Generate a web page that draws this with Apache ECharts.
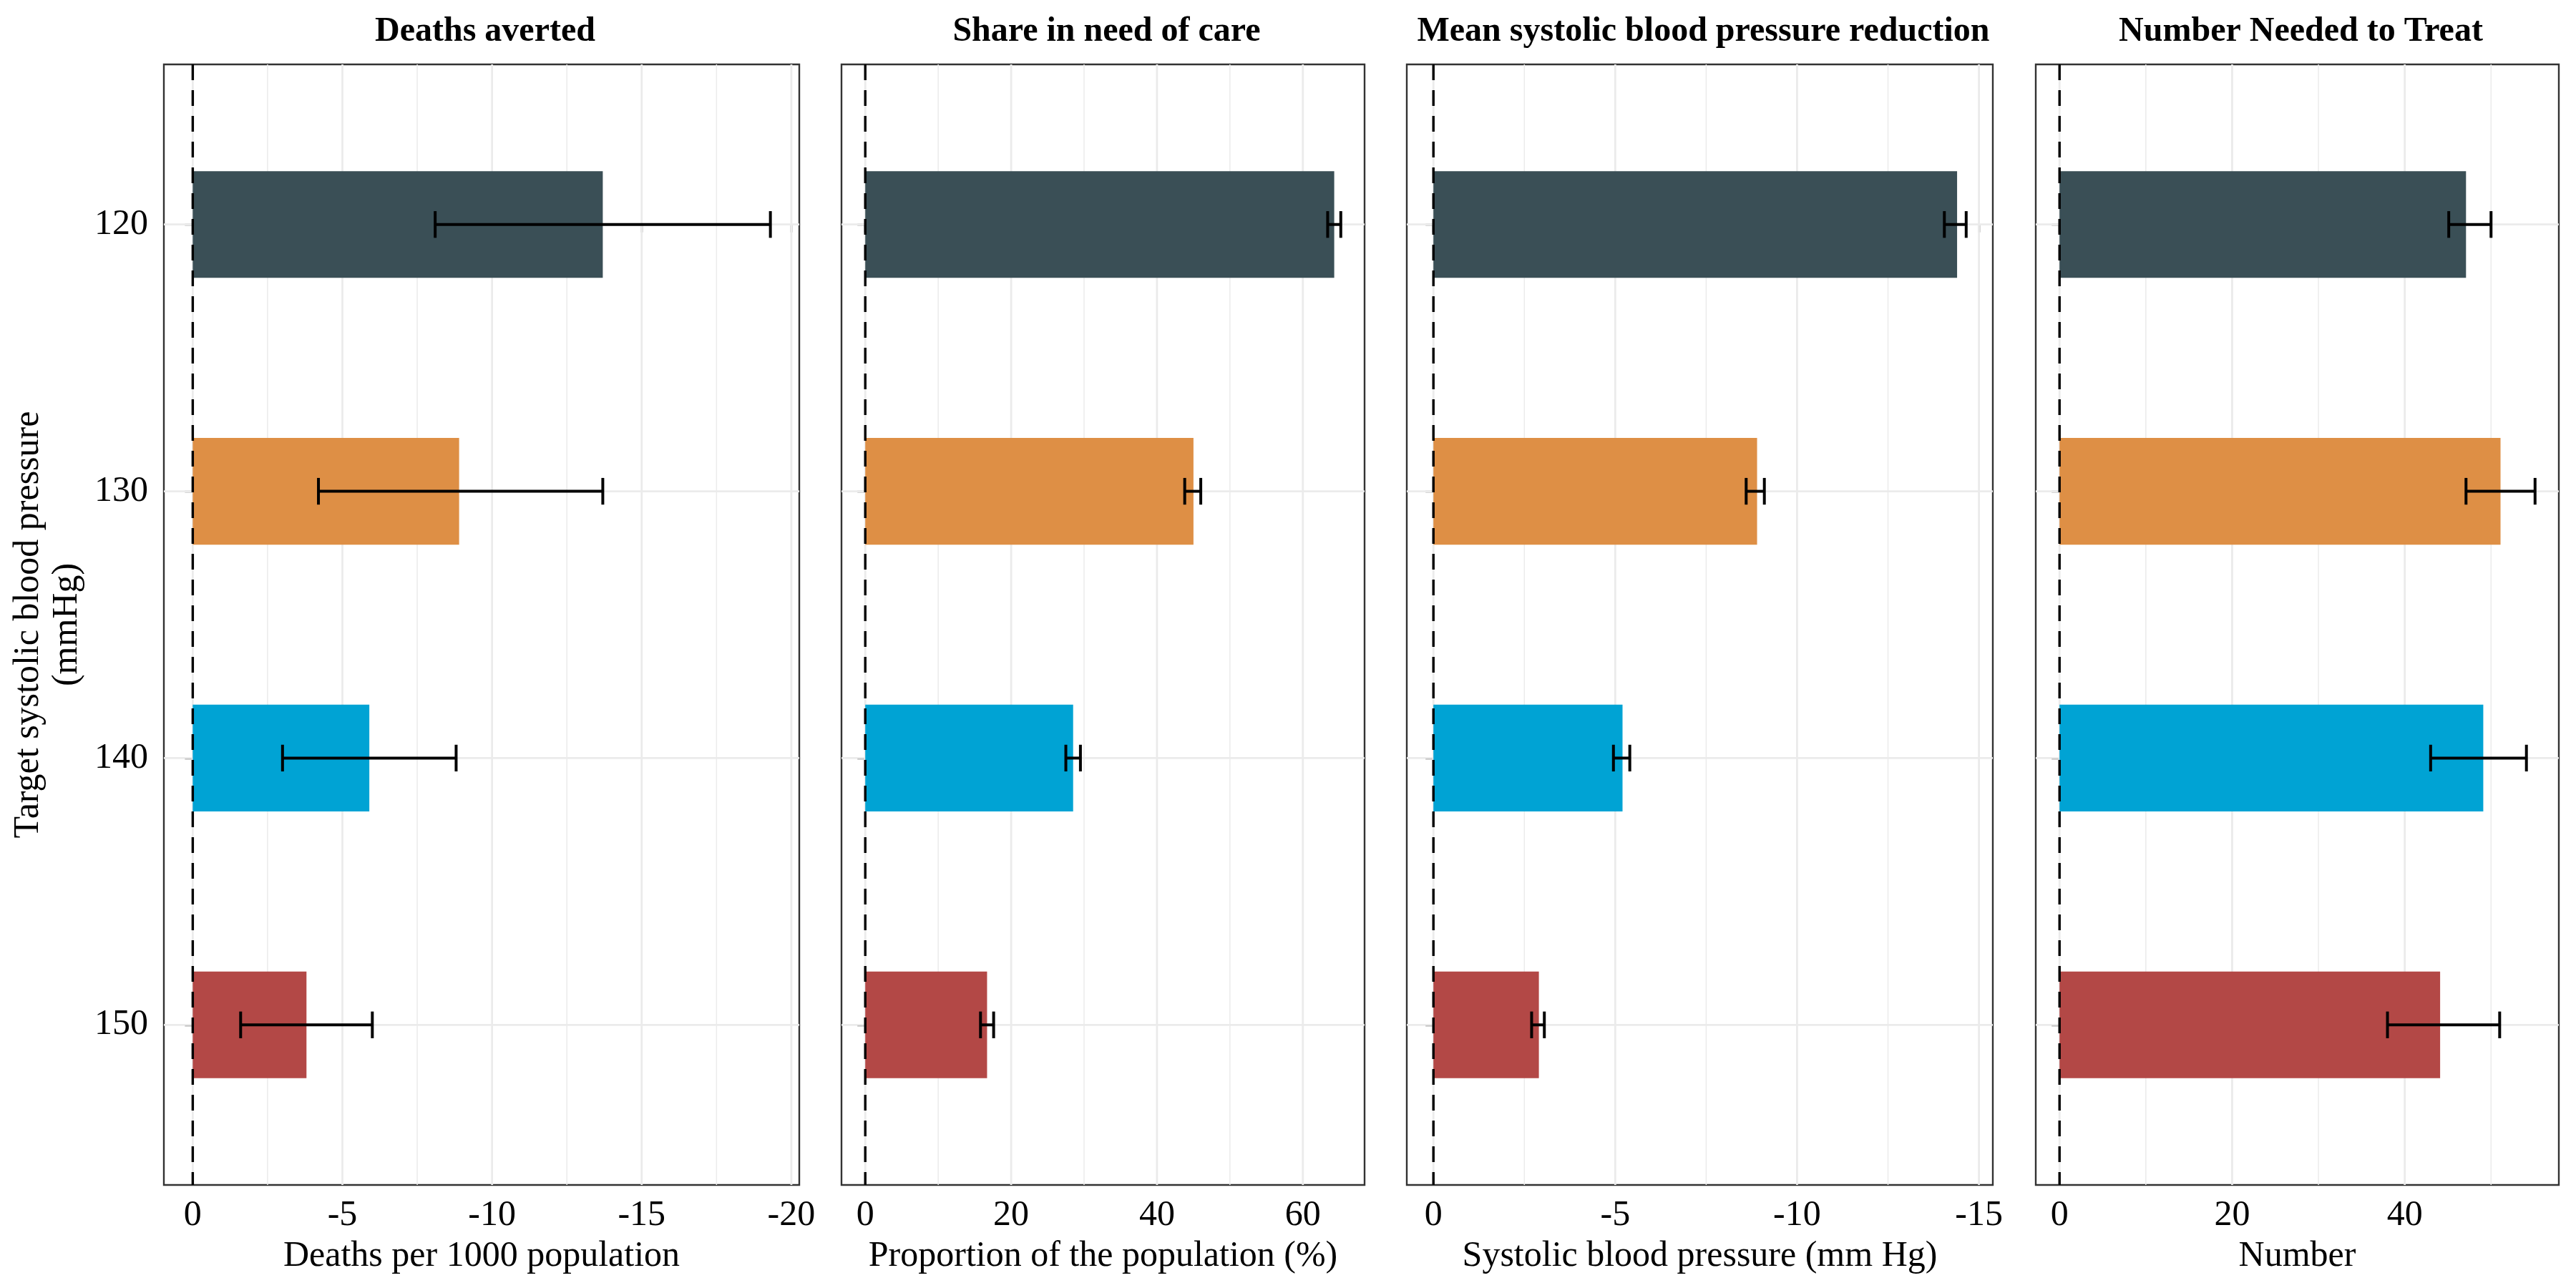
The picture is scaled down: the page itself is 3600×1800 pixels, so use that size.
<!DOCTYPE html>
<html>
<head>
<meta charset="utf-8">
<script src="https://cdn.jsdelivr.net/npm/echarts@6/dist/echarts.min.js"></script>
<style>html,body{margin:0;padding:0;background:#fff;}#chart{width:3600px;height:1800px;}</style>
</head>
<body>
<div id="chart"></div>
<script>
// ---------------- DATA ----------------
const categories = ['120', '130', '140', '150'];
const barColors = ['#3A4F56', '#DE8F45', '#00A3D4', '#B34846'];

const panelTitles = ['Deaths averted', 'Share in need of care', 'Mean systolic blood pressure reduction', 'Number Needed to Treat'];
const axisTitles = ['Deaths per 1000 population', 'Proportion of the population (%)', 'Systolic blood pressure (mm Hg)', 'Number'];

const deathsAverted = [-13.7, -8.9, -5.9, -3.8];
const deathsLower   = [-8.1, -4.2, -3.0, -1.6];
const deathsUpper   = [-19.3, -13.7, -8.8, -6.0];

const shareCare      = [64.3, 45.0, 28.5, 16.7];
const shareCareLower = [63.4, 43.8, 27.5, 15.8];
const shareCareUpper = [65.2, 46.0, 29.5, 17.6];

const sbpReduction = [-14.4, -8.9, -5.2, -2.9];
const sbpLower     = [-14.05, -8.6, -4.95, -2.7];
const sbpUpper     = [-14.65, -9.1, -5.4, -3.05];

const nnt      = [47.1, 51.1, 49.1, 44.1];
const nntLower = [45.1, 47.1, 43.0, 38.0];
const nntUpper = [50.0, 55.1, 54.1, 51.0];

const deathsTicks = [0, -5, -10, -15, -20];
const deathsMinor = [-2.5, -7.5, -12.5, -17.5];
const shareTicks  = [0, 20, 40, 60];
const shareMinor  = [10, 30, 50];
const sbpTicks    = [0, -5, -10, -15];
const sbpMinor    = [-2.5, -7.5, -12.5];
const nntTicks    = [0, 20, 40];
const nntMinor    = [10, 30, 50];

// ---------------- LAYOUT ----------------
const FONT = 'Liberation Serif';
const FS = 50;
const FS_TITLE = 48;
const panelsLayout = [
  {left: 229, width: 888},
  {left: 1176, width: 731},
  {left: 1966, width: 819},
  {left: 2845, width: 731}
];
const TOP = 90, BOTTOM = 144;
const Y_MIN = -0.6, Y_MAX = 3.6;
const BAR_HALF = 0.2, CAP_HALF = 0.05;

const panels = [
  {vals: deathsAverted, lo: deathsLower, hi: deathsUpper, ticks: deathsTicks, minor: deathsMinor, inverse: true},
  {vals: shareCare, lo: shareCareLower, hi: shareCareUpper, ticks: shareTicks, minor: shareMinor, inverse: false},
  {vals: sbpReduction, lo: sbpLower, hi: sbpUpper, ticks: sbpTicks, minor: sbpMinor, inverse: true},
  {vals: nnt, lo: nntLower, hi: nntUpper, ticks: nntTicks, minor: nntMinor, inverse: false}
];

function extent(p) {
  const all = [0].concat(p.vals, p.lo, p.hi);
  const a = Math.min.apply(null, all), b = Math.max.apply(null, all);
  const pad = (b - a) * 0.05;
  return [a - pad, b + pad];
}

const grids = [], xAxes = [], yAxes = [], series = [], titles = [];

panels.forEach(function (p, k) {
  const ext = extent(p);
  const L = panelsLayout[k];
  grids.push({
    left: L.left, width: L.width, top: TOP, bottom: BOTTOM,
    outerBoundsMode: 'none', containLabel: false,
    show: true, borderColor: '#333333', borderWidth: 2.4, backgroundColor: 'transparent'
  });
  xAxes.push({
    type: 'value', gridIndex: k, min: ext[0], max: ext[1], inverse: p.inverse,
    axisLine: {show: false},
    splitLine: {show: false},
    axisTick: {show: true, customValues: p.ticks, length: 11, lineStyle: {color: '#333333', width: 2.4}},
    axisLabel: {show: true, customValues: p.ticks, margin: 18, color: '#000', fontFamily: FONT, fontSize: FS},
    name: axisTitles[k], nameLocation: 'middle', nameGap: 75,
    nameTextStyle: {color: '#000', fontFamily: FONT, fontSize: FS}
  });
  const yAx = {
    type: 'value', gridIndex: k, min: Y_MIN, max: Y_MAX, inverse: true,
    axisLine: {show: false},
    splitLine: {show: false},
    axisTick: {show: true, customValues: [0, 1, 2, 3], length: 11, lineStyle: {color: '#333333', width: 2.4}},
    axisLabel: {show: k === 0, customValues: [0, 1, 2, 3], margin: 22, color: '#000', fontFamily: FONT, fontSize: FS,
      formatter: function (v) { return categories[Math.round(v)]; }}
  };
  if (k === 0) {
    yAx.name = 'Target systolic blood pressure\n(mmHg)';
    yAx.nameLocation = 'middle';
    yAx.nameGap = 108;
    yAx.nameRotate = 90;
    yAx.nameTextStyle = {color: '#000', fontFamily: FONT, fontSize: FS, lineHeight: 54};
  }
  yAxes.push(yAx);

  titles.push({
    text: panelTitles[k], left: L.left + L.width / 2, top: 16, textAlign: 'center',
    textStyle: {fontFamily: FONT, fontWeight: 'bold', fontSize: FS_TITLE, color: '#000'}
  });

  // gridlines
  const gridData = [];
  p.ticks.forEach(function (t) { gridData.push([0, t]); });
  p.minor.forEach(function (t) { gridData.push([1, t]); });
  categories.forEach(function (c, i) { gridData.push([2, i]); });
  series.push({
    type: 'custom', xAxisIndex: k, yAxisIndex: k, z: 1, silent: true,
    data: gridData,
    renderItem: function (params, api) {
      const kind = api.value(0), v = api.value(1);
      let a, b;
      if (kind === 2) { a = api.coord([ext[0], v]); b = api.coord([ext[1], v]); }
      else { a = api.coord([v, Y_MIN]); b = api.coord([v, Y_MAX]); }
      return {type: 'line', shape: {x1: a[0], y1: a[1], x2: b[0], y2: b[1]},
        style: {stroke: '#EBEBEB', lineWidth: kind === 1 ? 1.5 : 2.8}};
    }
  });

  // bars
  series.push({
    type: 'custom', xAxisIndex: k, yAxisIndex: k, z: 2, silent: true,
    encode: {x: 1, y: 0},
    data: p.vals.map(function (v, i) { return [i, v]; }),
    renderItem: function (params, api) {
      const i = api.value(0), v = api.value(1);
      const a = api.coord([0, i - BAR_HALF]), b = api.coord([v, i + BAR_HALF]);
      return {type: 'rect', shape: {x: Math.min(a[0], b[0]), y: Math.min(a[1], b[1]),
        width: Math.abs(b[0] - a[0]), height: Math.abs(b[1] - a[1])},
        style: {fill: barColors[i]}};
    }
  });

  // zero line
  series.push({
    type: 'custom', xAxisIndex: k, yAxisIndex: k, z: 3, silent: true,
    data: [[0]],
    renderItem: function (params, api) {
      const a = api.coord([api.value(0), Y_MIN]), b = api.coord([api.value(0), Y_MAX]);
      return {type: 'line', shape: {x1: a[0], y1: a[1], x2: b[0], y2: b[1]},
        style: {stroke: '#000', lineWidth: 3.4, lineDash: [22, 14]}};
    }
  });

  // error bars
  series.push({
    type: 'custom', xAxisIndex: k, yAxisIndex: k, z: 4, silent: true,
    data: p.lo.map(function (l, i) { return [i, l, p.hi[i]]; }),
    renderItem: function (params, api) {
      const i = api.value(0), l = api.value(1), h = api.value(2);
      const pl = api.coord([l, i]), ph = api.coord([h, i]);
      const l1 = api.coord([l, i - CAP_HALF]), l2 = api.coord([l, i + CAP_HALF]);
      const h1 = api.coord([h, i - CAP_HALF]), h2 = api.coord([h, i + CAP_HALF]);
      const st = {stroke: '#000', lineWidth: 4};
      return {type: 'group', children: [
        {type: 'line', shape: {x1: pl[0], y1: pl[1], x2: ph[0], y2: ph[1]}, style: st},
        {type: 'line', shape: {x1: l1[0], y1: l1[1], x2: l2[0], y2: l2[1]}, style: st},
        {type: 'line', shape: {x1: h1[0], y1: h1[1], x2: h2[0], y2: h2[1]}, style: st}
      ]};
    }
  });
});

const chart = echarts.init(document.getElementById('chart'), null, {renderer: 'canvas'});
chart.setOption({
  animation: false,
  backgroundColor: '#ffffff',
  title: titles,
  grid: grids,
  xAxis: xAxes,
  yAxis: yAxes,
  series: series
});
</script>
</body>
</html>
